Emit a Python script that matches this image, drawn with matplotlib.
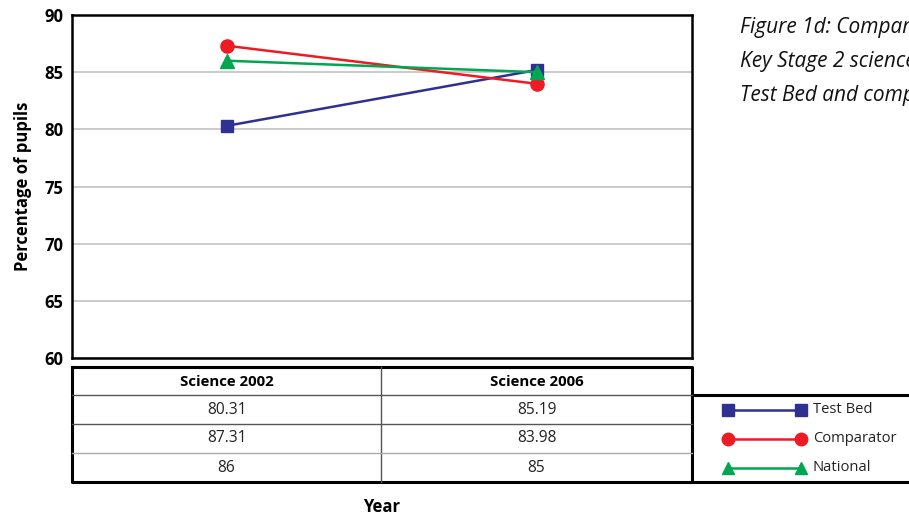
import matplotlib.pyplot as plt

plt.rcParams['font.family'] = ['Open Sans', 'DejaVu Sans']

years = ['Science 2002', 'Science 2006']
series = ['Test Bed', 'Comparator', 'National']
test_bed = [80.31, 85.19]
comparator = [87.31, 83.98]
national = [86, 85]
table_text = [['80.31', '85.19'], ['87.31', '83.98'], ['86', '85']]
yticks = [60, 65, 70, 75, 80, 85, 90]

colors = ['#2E3192', '#ED1C24', '#00A651']
markers = ['s', 'o', '^']
msizes = [9, 9.5, 9.5]

W, H = 909, 515
fig = plt.figure(figsize=(W / 100, H / 100), dpi=100)

# plot area in pixels
x0, x1, ytop, ybot = 72, 692, 15, 358
ax = fig.add_axes([x0 / W, 1 - ybot / H, (x1 - x0) / W, (ybot - ytop) / H])
xs = [0.5, 1.5]
for vals, c, m, ms in zip([test_bed, comparator, national], colors, markers, msizes):
    ax.plot(xs, vals, color=c, lw=1.8, marker=m, ms=ms, zorder=3)
ax.set_xlim(0, 2)
ax.set_ylim(60, 90)
ax.set_yticks(yticks)
ax.set_yticklabels([str(t) for t in yticks], fontsize=12, fontweight='bold')
ax.set_xticks([])
ax.tick_params(axis='y', length=0, pad=6)
ax.grid(axis='y', color='#BDBDBD', lw=1.1)
ax.set_axisbelow(True)
for s in ax.spines.values():
    s.set_linewidth(1.8)
ax.set_ylabel('Percentage of pupils', fontsize=12, fontweight='bold', labelpad=9)

# table + legend drawn on an overlay in pixel coordinates
ov = fig.add_axes([0, 0, 1, 1])
ov.set_xlim(0, W)
ov.set_ylim(H, 0)
ov.axis('off')

colsplit = 381
rows = [367, 395, 424, 453, 482]
thick = dict(color='black', lw=2.2)
thin = dict(color='#555555', lw=1.0)
light = dict(color='#AAAAAA', lw=1.0)

ov.plot([x0, x1, x1, x0, x0], [rows[0], rows[0], rows[-1], rows[-1], rows[0]], **thick)
ov.plot([x1, W], [rows[1], rows[1]], **thick)
ov.plot([x1, W], [rows[-1], rows[-1]], **thick)
ov.plot([colsplit, colsplit], [rows[0], rows[-1]], **thin)
ov.plot([x0, x1], [rows[1], rows[1]], **thin)
ov.plot([x0, x1], [rows[2], rows[2]], **thin)
ov.plot([x0, x1], [rows[3], rows[3]], **light)

cx = [(x0 + colsplit) / 2, (colsplit + x1) / 2]
for j, lab in enumerate(years):
    ov.text(cx[j], (rows[0] + rows[1]) / 2 + 1, lab, ha='center', va='center',
            fontsize=10.8, fontweight='bold')
for i, row in enumerate(table_text):
    yc = (rows[i + 1] + rows[i + 2]) / 2
    for j, val in enumerate(row):
        ov.text(cx[j], yc, val, ha='center', va='center', fontsize=11.2, color='#222222')
    ov.plot([728, 801], [yc, yc], color=colors[i], lw=1.8, marker=markers[i],
            ms=msizes[i] - 0.5)
    ov.text(813, yc, series[i], ha='left', va='center', fontsize=10.6, color='#222222')

ov.text(382, 507, 'Year', ha='center', va='center', fontsize=12, fontweight='bold')

caption = ['Figure 1d: Comparison of', 'Key Stage 2 science results', 'Test Bed and comparator']
for k, line in enumerate(caption):
    ov.text(740, 28 + 34 * k, line, ha='left', va='center', fontsize=15,
            style='italic', color='#111111')

fig.savefig('out.png', dpi=100)
